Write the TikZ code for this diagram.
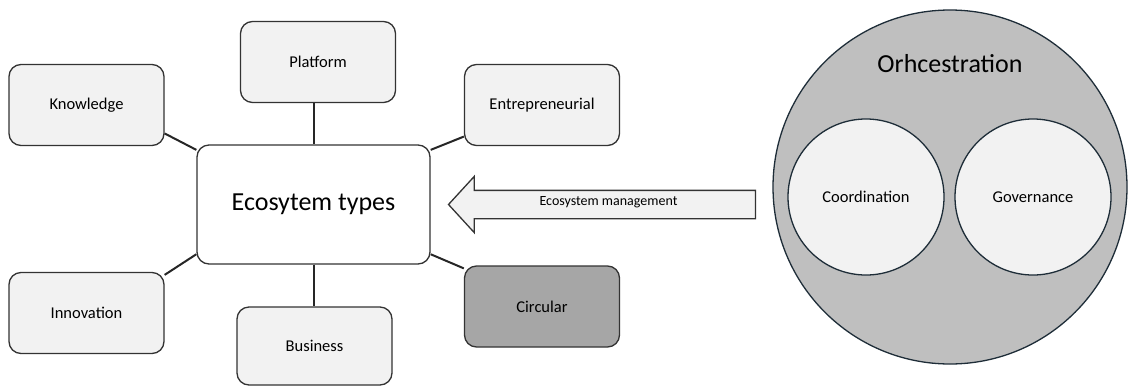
\documentclass[tikz,border=0pt]{standalone}
\usepackage{fontspec}
\setmainfont{Carlito}
\usetikzlibrary{shapes.arrows}

\definecolor{boxgray}{HTML}{F2F2F2}
\definecolor{circgray}{HTML}{A6A6A6}
\definecolor{orchgray}{HTML}{BFBFBF}
\definecolor{rimblue}{HTML}{1E2D38}

\begin{document}
\begin{tikzpicture}[x=1pt, y=-1pt,
  typebox/.style={draw=black!80, line width=1.3pt, rounded corners=12pt, fill=boxgray,
    minimum width=155pt, minimum height=81pt, font=\fontsize{16.5}{18}\selectfont},
  link/.style={line width=2pt, black!85},
  ring/.style={circle, draw=rimblue, line width=1.3pt, inner sep=0pt}]
\useasboundingbox (0,0) rectangle (1129,386);

% ecosystem types in the middle
\node[typebox, fill=white, minimum width=233pt, minimum height=119pt,
  font=\fontsize{26}{28}\selectfont] (eco) at (313.5,204.5) {Ecosytem types};
\node[typebox] (platform) at (318,62) {Platform};
\node[typebox] (knowledge) at (86.5,105) {Knowledge};
\node[typebox] (entre) at (542,105) {Entrepreneurial};
\node[typebox] (innov) at (86.5,313) {Innovation};
\node[typebox, minimum height=78pt] (business) at (314.5,346) {Business};
\node[typebox, fill=circgray] (circular) at (542,306.5) {Circular};

\draw[link] (eco.north) -- (eco.north |- platform.south);
\draw[link] (eco.south) -- (eco.south |- business.north);
\draw[link] (eco.155.6) -- (knowledge.-20.5);
\draw[link] (eco.25) -- (entre.202.8);
\draw[link] (eco.203) -- (innov.26.4);
\draw[link] (eco.-23.4) -- (circular.154.3);

% orchestration
\node[ring, fill=orchgray, minimum size=354pt] (orch) at (950,187) {};
\node[font=\fontsize{26}{28}\selectfont] (orchlabel) at (950,64) {Orhcestration};
\node[ring, fill=boxgray, minimum size=156pt, font=\fontsize{16.5}{18}\selectfont]
  (coord) at (866,197) {Coordination};
\node[ring, fill=boxgray, minimum size=156pt, font=\fontsize{16.5}{18}\selectfont]
  (gov) at (1033,197) {Governance};

% management arrow
\node[single arrow, shape border rotate=180, draw=black!80, line width=1.3pt, fill=boxgray,
  minimum height=307pt, minimum width=55pt, single arrow head extend=14pt,
  single arrow tip angle=95, inner sep=0pt, text height=14pt, text depth=13pt,
  font=\fontsize{14}{16}\selectfont] (mgmt) at (608.5,204.5) {Ecosystem management};
\end{tikzpicture}
\end{document}
